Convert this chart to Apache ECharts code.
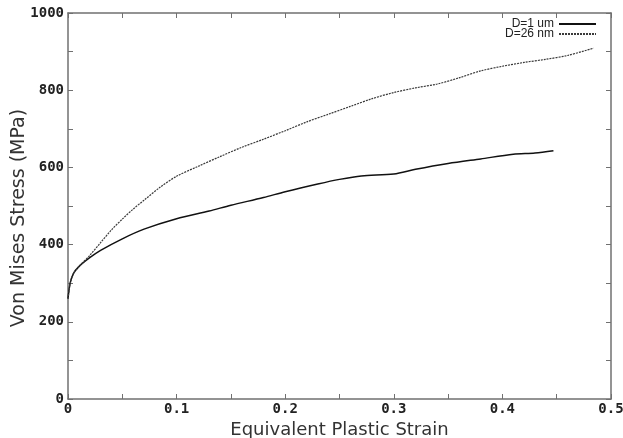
<!DOCTYPE html>
<html>
<head>
<meta charset="utf-8">
<script src="https://cdn.jsdelivr.net/npm/echarts@6/dist/echarts.min.js"></script>
<style>html,body{margin:0;padding:0;background:#fff}#c{width:623px;height:438px}</style>
</head>
<body>
<div id="c"></div>
<script>
var seriesNames = ['D=1 um', 'D=26 nm'];
var strain1 = [0, 0.002, 0.005, 0.01, 0.02, 0.03, 0.05, 0.07, 0.1, 0.13, 0.15, 0.18, 0.2, 0.23, 0.25, 0.27, 0.3, 0.32, 0.35, 0.38, 0.41, 0.43, 0.447];
var stress1 = [260, 300, 325, 343, 366, 385, 415, 440, 467, 487, 502, 522, 537, 557, 569, 578, 583, 595, 610, 622, 634, 637, 643];
var strain2 = [0, 0.002, 0.005, 0.01, 0.02, 0.03, 0.04, 0.05, 0.06, 0.07, 0.085, 0.1, 0.12, 0.14, 0.16, 0.18, 0.2, 0.22, 0.24, 0.26, 0.28, 0.3, 0.32, 0.34, 0.36, 0.38, 0.4, 0.42, 0.44, 0.46, 0.484];
var stress2 = [260, 300, 325, 343, 372, 405, 438, 466, 492, 515, 549, 577, 603, 628, 652, 673, 695, 718, 738, 758, 778, 794, 806, 816, 832, 850, 862, 872, 880, 890, 909];
var xTitle = 'Equivalent Plastic Strain';
var yTitle = 'Von Mises Stress (MPa)';

function zip(a, b) { return a.map(function (v, i) { return [v, b[i]]; }); }

var axisCol = '#707070';
var tickFont = { fontFamily: 'DejaVu Sans Mono', fontWeight: 'bold', fontSize: 14, color: '#222' };

var chart = echarts.init(document.getElementById('c'), null, { renderer: 'canvas' });
chart.setOption({
  animation: false,
  backgroundColor: '#fff',
  grid: { left: 68, right: 12, top: 13, bottom: 39, outerBoundsMode: 'none', containLabel: false },
  legend: {
    orient: 'vertical', right: 26, top: 18, align: 'right', padding: 0,
    itemWidth: 37, itemHeight: 8, itemGap: -2,
    itemStyle: { opacity: 0 },
    textStyle: { fontFamily: 'Liberation Sans', fontSize: 12, lineHeight: 10, color: '#222', padding: [0, 0, 0, -1] },
    data: seriesNames
  },
  xAxis: [{
    type: 'value', min: 0, max: 0.5, interval: 0.05,
    name: xTitle, nameLocation: 'middle', nameGap: 16,
    nameTextStyle: { fontFamily: 'DejaVu Sans', fontSize: 18, color: '#333' },
    axisLine: { onZero: false, lineStyle: { color: axisCol, width: 1.5 } },
    axisTick: { inside: true, length: 5, lineStyle: { color: axisCol } },
    splitLine: { show: false },
    axisLabel: Object.assign({ margin: 3, formatter: function (v) {
      var k = Math.round(v * 100);
      if (k % 10 !== 0) return '';
      return k === 0 ? '0' : (k / 100).toFixed(1);
    } }, tickFont)
  }, {
    type: 'value', min: 0, max: 0.5, interval: 0.05, position: 'top',
    axisLine: { show: true, onZero: false, lineStyle: { color: axisCol, width: 1.5 } },
    axisTick: { show: true, inside: true, length: 5, lineStyle: { color: axisCol } },
    axisLabel: { show: false }, splitLine: { show: false }
  }],
  yAxis: [{
    type: 'value', min: 0, max: 1000, interval: 100,
    name: yTitle, nameLocation: 'middle', nameGap: 39, nameMoveOverlap: false,
    nameTextStyle: { fontFamily: 'DejaVu Sans', fontSize: 19, color: '#333', padding: [0, 24, 0, 0] },
    axisLine: { show: true, onZero: false, lineStyle: { color: axisCol, width: 1.5 } },
    axisTick: { show: true, inside: true, length: 5, lineStyle: { color: axisCol } },
    splitLine: { show: false },
    axisLabel: Object.assign({ margin: 4, formatter: function (v) {
      return Math.round(v) % 200 === 0 ? String(Math.round(v)) : '';
    } }, tickFont)
  }, {
    type: 'value', min: 0, max: 1000, interval: 100, position: 'right',
    axisLine: { show: true, onZero: false, lineStyle: { color: axisCol, width: 1.5 } },
    axisTick: { show: true, inside: true, length: 5, lineStyle: { color: axisCol } },
    axisLabel: { show: false }, splitLine: { show: false }
  }],
  series: [{
    name: seriesNames[0], type: 'line', symbol: 'none', smooth: 0.3,
    data: zip(strain1, stress1),
    lineStyle: { color: '#111', width: 1.5, type: 'solid' },
    itemStyle: { color: '#111' }
  }, {
    name: seriesNames[1], type: 'line', symbol: 'none', smooth: 0.3,
    data: zip(strain2, stress2),
    lineStyle: { color: '#3a3a3a', width: 1.2, type: [2, 1] },
    itemStyle: { color: '#3a3a3a' }
  }]
});
</script>
</body>
</html>
